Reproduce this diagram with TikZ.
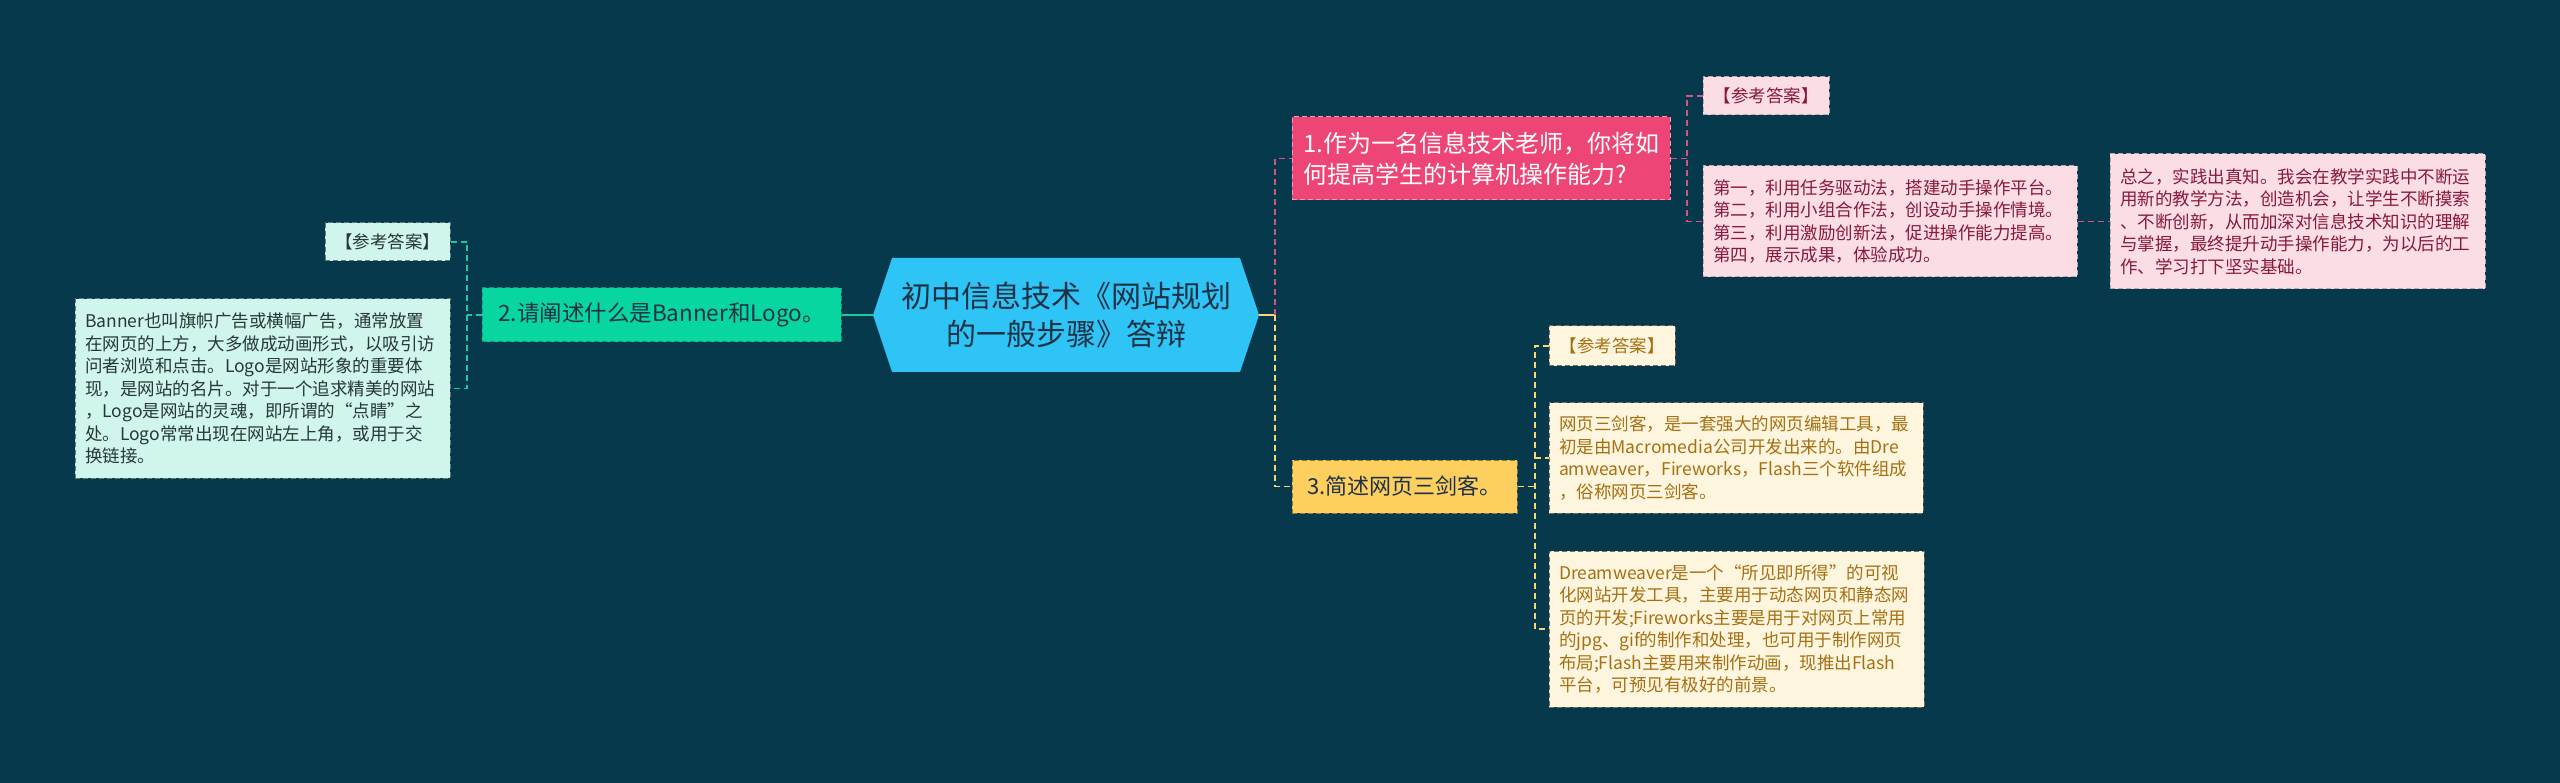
\documentclass[tikz,border=0pt]{standalone}
\usepackage{fontspec}
\setmainfont{Noto Sans CJK SC}
\definecolor{bg}{RGB}{7,57,77}
\definecolor{cfill}{RGB}{46,196,246}
\definecolor{ctext}{RGB}{30,50,70}
\definecolor{gfill}{RGB}{8,214,160}
\definecolor{gline}{RGB}{30,200,160}
\definecolor{gbord}{RGB}{20,150,115}
\definecolor{mfill}{RGB}{207,245,236}
\definecolor{mbord}{RGB}{95,125,120}
\definecolor{mtext}{RGB}{40,55,55}
\definecolor{rfill}{RGB}{237,69,117}
\definecolor{rbord}{RGB}{250,150,175}
\definecolor{rline}{RGB}{215,85,125}
\definecolor{pfill}{RGB}{251,221,228}
\definecolor{pbord}{RGB}{190,165,175}
\definecolor{ptext}{RGB}{135,25,60}
\definecolor{yfill}{RGB}{253,207,95}
\definecolor{ybord}{RGB}{150,120,60}
\definecolor{yline}{RGB}{253,215,110}
\definecolor{lfill}{RGB}{254,245,222}
\definecolor{lbord}{RGB}{120,110,90}
\definecolor{ltext}{RGB}{165,112,18}
\begin{document}
\begin{tikzpicture}[x=1pt,y=-1pt,
  base/.style={rectangle, dash pattern=on 5pt off 3pt, line width=1pt, inner xsep=10pt, inner ysep=4pt},
  small/.style={base, font=\fontsize{17.5}{22.5}\selectfont, align=center},
  para/.style={base, font=\fontsize{17.5}{22.5}\selectfont, align=left},
  mint/.style={fill=mfill, draw=mbord, text=mtext},
  pinkb/.style={fill=pfill, draw=pbord, text=ptext},
  yelb/.style={fill=lfill, draw=lbord, text=ltext},
  gconn/.style={draw=gline, line width=1.6pt, dash pattern=on 6pt off 4pt},
  rconn/.style={draw=rline, line width=1.6pt, dash pattern=on 6pt off 4pt},
  yconn/.style={draw=yline, line width=1.6pt, dash pattern=on 6pt off 4pt}
]
\fill[bg] (0,0) rectangle (2560,783);
\useasboundingbox (0,0) rectangle (2560,783);

% central hexagon
\fill[cfill] (873,315) -- (892,258) -- (1240,258) -- (1259,315) -- (1240,372) -- (892,372) -- cycle;
\node[minimum width=386pt, minimum height=114pt, inner sep=0pt, align=center, text=ctext,
  font=\fontsize{30}{38}\selectfont] (c) at (1066,315) {初中信息技术《网站规划\\的一般步骤》答辩};

% level 1 nodes
\node[base, fill=gfill, draw=gbord, text=ctext, minimum width=359pt, minimum height=54pt,
  font=\fontsize{22.5}{28}\selectfont] (n2) at (661.5,315) {2.请阐述什么是Banner和Logo。};
\node[base, fill=rfill, draw=rbord, text=white, minimum width=378pt, minimum height=83pt,
  align=left, font=\fontsize{24}{31}\selectfont] (n1) at (1481,158.5) {1.作为一名信息技术老师，你将如\\何提高学生的计算机操作能力?};
\node[base, fill=yfill, draw=ybord, text=ctext, minimum width=225pt, minimum height=53pt,
  font=\fontsize{22}{28}\selectfont] (n3) at (1404.5,486.5) {3.简述网页三剑客。};

% left children
\node[small, mint, minimum width=125pt, minimum height=38pt] (l1) at (387.5,242) {【参考答案】};
\node[para, mint, text width=355pt, minimum height=179pt] (l2) at (262.5,388.5) {Banner也叫旗帜广告或横幅广告，通常放置\\在网页的上方，大多做成动画形式，以吸引访\\问者浏览和点击。Logo是网站形象的重要体\\现，是网站的名片。对于一个追求精美的网站\\，Logo是网站的灵魂，即所谓的“点睛”之\\处。Logo常常出现在网站左上角，或用于交\\换链接。};

% pink children
\node[small, pinkb, minimum width=126pt, minimum height=38pt] (p1) at (1766,96) {【参考答案】};
\node[para, pinkb, text width=354pt, minimum height=111pt] (p2) at (1890,221.5) {第一，利用任务驱动法，搭建动手操作平台。\\第二，利用小组合作法，创设动手操作情境。\\第三，利用激励创新法，促进操作能力提高。\\第四，展示成果，体验成功。};
\node[para, pinkb, text width=355pt, minimum height=135pt] (p3) at (2297.5,221.5) {总之，实践出真知。我会在教学实践中不断运\\用新的教学方法，创造机会，让学生不断摸索\\、不断创新，从而加深对信息技术知识的理解\\与掌握，最终提升动手操作能力，为以后的工\\作、学习打下坚实基础。};

% yellow children
\node[small, yelb, minimum width=126pt, minimum height=40pt] (y1) at (1612,346) {【参考答案】};
\node[para, yelb, text width=354pt, minimum height=110pt] (y2) at (1736,458) {网页三剑客，是一套强大的网页编辑工具，最\\初是由Macromedia公司开发出来的。由Dre\\amweaver，Fireworks，Flash三个软件组成\\，俗称网页三剑客。};
\node[para, yelb, text width=355pt, minimum height=156pt] (y3) at (1736.5,629) {Dreamweaver是一个“所见即所得”的可视\\化网站开发工具，主要用于动态网页和静态网\\页的开发;Fireworks主要是用于对网页上常用\\的jpg、gif的制作和处理，也可用于制作网页\\布局;Flash主要用来制作动画，现推出Flash\\平台，可预见有极好的前景。};

% bracket coordinates
\coordinate (lb) at (467,0);
\coordinate (rb) at (1275,0);
\coordinate (pb) at (1687,0);
\coordinate (yb) at (1535,0);

% central connectors
\draw[gline, line width=2pt] (c.west) -- (n2.east);
\draw[yline, line width=2pt] (c.east) -- (c.east -| rb);
\draw[rconn] (c.east -| rb) -- (n1.west -| rb) -- (n1.west);
\draw[yconn] (c.east -| rb) -- (n3.west -| rb) -- (n3.west);

% left bracket
\draw[gconn] (n2.west) -- (n2.west -| lb);
\draw[gconn] (l1.east) -- (l1.east -| lb) -- (l2.east -| lb) -- (l2.east);

% pink bracket
\draw[rconn] (n1.east) -- (n1.east -| pb);
\draw[rconn] (p1.west) -- (p1.west -| pb) -- (p2.west -| pb) -- (p2.west);
\draw[rconn] (p2.east) -- (p3.west);

% yellow bracket
\draw[yconn] (n3.east) -- (n3.east -| yb);
\draw[yconn] (y1.west) -- (y1.west -| yb) -- (y3.west -| yb) -- (y3.west);
\draw[yconn] (y2.west -| yb) -- (y2.west);
\end{tikzpicture}
\end{document}
